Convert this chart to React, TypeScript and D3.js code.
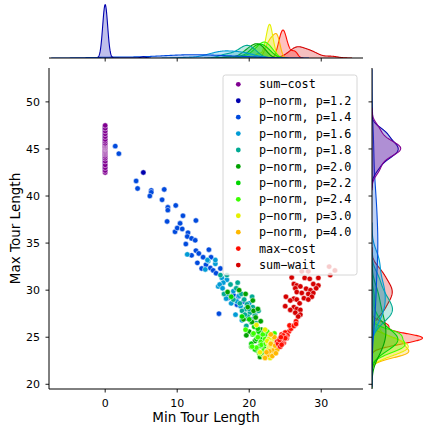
import React from 'react';
import * as d3 from 'd3';

// legend labels, in hue order
const seriesNames = [
  'sum−cost', 'p−norm, p=1.2', 'p−norm, p=1.4', 'p−norm, p=1.6', 'p−norm, p=1.8', 'p−norm, p=2.0',
  'p−norm, p=2.2', 'p−norm, p=2.4', 'p−norm, p=3.0', 'p−norm, p=4.0', 'max−cost', 'sum−wait',
];
// nipy_spectral sampled at 12 levels
const palette = [
  '#800091', '#0000ae', '#004add', '#009bd5', '#00aa93', '#00a100',
  '#00d500', '#3aff00', '#e6f000', '#ffb800', '#ff0c00', '#d50000',
];
const xTicks = [0, 10, 20, 30];
const yTicks = [20, 25, 30, 35, 40, 45, 50];

// [min tour length, max tour length]
const sumCost = [
  [0, 42.5], [0, 42.7], [0, 43.0], [0, 43.3], [0, 43.7], [0, 44.0], [0, 44.2], [0, 44.4], [0, 44.5], [0, 44.6],
  [0, 44.7], [0, 44.8], [0, 44.9], [0, 45.0], [0, 45.0], [0, 45.1], [0, 45.1], [0, 45.2], [0, 45.3], [0, 45.3],
  [0, 45.4], [0, 45.5], [0, 45.6], [0, 45.8], [0, 46.0], [0, 46.3], [0, 46.6], [0, 46.9], [0, 47.2], [0, 47.5],
];
const pNorm12 = [
  [0, 42.8], [0, 43.0], [0, 43.2], [0, 43.4], [0, 43.6], [0, 43.8], [0, 43.9], [0, 44.0], [0, 44.1], [0, 44.2],
  [0, 44.3], [0, 44.4], [0, 44.5], [0, 44.5], [0, 44.6], [0, 44.7], [0, 44.7], [0, 44.8], [0, 44.9], [0, 44.9],
  [0, 45.0], [0, 45.0], [0, 45.1], [0, 45.1], [0, 45.2], [0, 45.2], [0, 45.3], [0, 45.4], [0, 45.4], [0, 45.5],
  [0, 45.6], [0, 45.6], [0, 45.7], [0, 45.8], [0, 45.9], [0, 46.0], [0, 46.1], [0, 46.2], [0, 46.3], [0, 46.4],
  [0, 46.5], [0, 46.6], [0, 46.7], [0, 46.8], [0, 46.9], [0, 47.0], [0, 47.1], [0, 47.3], [0, 44.3], [5.3, 42.5],
];
const pNorm14 = [
  [0, 46.3], [0, 44.9], [0, 45.6], [1.4, 45.3], [1.9, 44.5], [4.3, 41.6], [4.5, 40.8], [6.4, 40.6], [6.4, 40.4],
  [6.2, 40.0], [8.2, 40.7], [7.9, 39.6], [8.7, 38.8], [8.7, 38.5], [9.8, 39.0], [10.8, 37.9], [8.6, 37.3],
  [10.4, 37.1], [12.6, 37.4], [9.7, 36.2], [10.0, 36.6], [10.7, 36.5], [11.5, 36.1], [11.4, 35.7], [12.0, 35.5],
  [12.5, 35.3], [11.2, 34.9], [12.6, 34.2], [13.0, 33.9], [12.0, 33.7], [14.4, 34.3], [13.6, 33.5], [14.7, 33.5],
  [12.8, 32.9], [13.4, 32.3], [14.0, 32.7], [14.6, 32.35], [15.0, 32.1], [15.4, 31.8], [16.0, 32.3], [15.8, 27.5],
  [16.7, 29.5], [17.1, 29.2], [17.8, 29.5], [18.5, 29.3], [19.2, 28.8], [19.9, 28.3], [19.7, 27.0], [20.4, 26.9],
  [20.8, 27.4], [18.3, 28.45],
];
const pNorm16 = [
  [11.4, 33.8], [14.3, 33.1], [15.3, 32.8], [13.9, 32.2], [15.7, 30.4], [16.2, 31.3], [16.9, 31.1], [16.4, 30.8],
  [15.9, 30.6], [16.3, 30.2], [15.3, 33.2], [14.2, 33.2], [17.0, 29.6], [17.8, 29.9], [18.3, 28.8], [18.8, 28.3],
  [19.3, 27.8], [19.8, 27.1], [17.5, 28.6], [18.1, 27.4], [16.8, 29.1], [20.3, 26.6], [18.6, 29.4], [19.0, 26.8],
  [20.0, 28.6], [21.0, 27.9],
];
const pNorm18 = [
  [16.0, 31.6], [16.9, 31.6], [17.4, 30.6], [16.5, 29.6], [18.2, 30.2], [18.9, 29.6], [19.3, 29.0], [19.7, 28.5],
  [19.5, 28.0], [20.1, 27.6], [19.8, 27.2], [20.5, 28.2], [20.2, 26.8], [18.7, 28.6], [19.0, 27.8], [20.8, 27.3],
  [17.8, 29.0], [20.4, 29.3], [21.0, 26.5], [19.6, 26.2], [20.0, 28.0], [19.4, 27.4], [21.3, 27.8], [18.4, 30.8],
];
const pNorm20 = [
  [17.0, 29.8], [18.6, 30.0], [19.5, 29.6], [20.5, 28.9], [19.8, 28.2], [20.6, 27.8], [21.2, 28.0], [19.2, 26.9],
  [20.4, 26.6], [21.0, 26.2], [21.7, 25.8], [20.0, 25.6], [21.4, 25.1], [22.3, 24.9], [20.8, 24.6], [21.9, 24.0],
  [22.4, 23.3], [21.1, 23.6], [19.6, 25.2], [20.9, 27.1], [21.6, 26.7], [22.0, 25.5], [20.3, 24.0], [21.5, 22.9],
];
const pNorm22 = [
  [17.5, 29.3], [19.0, 27.2], [20.0, 26.9], [20.7, 26.1], [21.3, 25.6], [21.8, 25.2], [20.5, 25.3], [21.0, 24.8],
  [22.0, 24.5], [22.6, 24.2], [21.5, 24.1], [20.3, 24.3], [22.9, 25.0], [21.8, 23.2], [22.2, 23.8], [23.1, 24.6],
  [21.2, 25.9], [20.8, 23.7], [22.4, 25.4], [21.6, 24.8],
];
const pNorm24 = [
  [19.5, 25.8], [20.6, 25.4], [21.2, 25.0], [21.9, 25.3], [22.5, 25.6], [21.6, 24.5], [22.2, 24.8], [22.8, 24.3],
  [21.0, 23.9], [22.0, 23.6], [23.3, 24.9], [20.4, 24.0], [23.5, 25.4], [22.5, 23.1], [21.7, 24.2], [22.3, 24.3],
  [21.4, 23.3], [22.9, 23.8],
];
const pNorm30 = [
  [21.0, 26.3], [22.2, 25.8], [22.9, 25.2], [23.2, 24.7], [22.6, 24.4], [22.8, 24.0], [23.0, 23.7], [22.4, 23.5],
  [23.4, 24.3], [22.9, 22.8], [22.1, 22.9], [21.5, 23.4], [23.6, 23.8], [22.7, 24.8], [23.1, 23.3], [22.5, 24.6],
  [22.8, 23.9], [23.0, 24.4], [22.6, 23.6], [22.9, 24.2],
];
const pNorm40 = [
  [23.5, 25.0], [23.8, 24.5], [24.0, 24.0], [23.3, 23.6], [22.6, 23.1], [22.2, 22.8], [23.0, 24.3], [23.9, 23.7],
  [24.2, 24.6], [22.8, 23.5], [23.6, 24.1], [23.2, 23.0], [23.7, 23.3], [22.4, 23.4], [23.0, 25.3], [24.1, 24.7],
];
const maxCost = [
  [24.4, 24.6], [24.7, 24.9], [24.5, 25.3], [25.0, 25.45], [25.5, 25.6], [25.8, 25.9], [25.6, 26.25], [26.2, 26.25],
  [26.5, 26.7], [24.3, 24.9], [24.7, 24.7], [23.9, 24.55], [25.0, 25.5], [26.2, 26.2], [26.5, 26.4], [24.1, 24.2],
  [24.8, 24.4], [25.2, 24.9], [24.0, 24.3], [24.3, 24.0], [24.6, 24.4], [24.9, 24.8], [24.2, 24.7], [24.5, 24.2],
  [24.8, 25.1], [25.3, 25.2], [24.6, 25.0], [24.9, 25.1], [25.1, 25.0], [24.7, 25.2], [25.0, 24.9], [24.4, 25.0],
];
const sumWait = [
  [25.9, 31.35], [27.7, 31.3], [28.4, 31.2], [29.6, 31.3], [26.2, 30.65], [26.6, 30.5], [27.1, 30.4], [26.4, 30.2],
  [28.9, 30.65], [29.6, 30.5], [27.9, 30.15], [28.5, 30.0], [29.3, 30.2], [26.6, 29.8], [27.3, 29.7], [28.9, 29.7],
  [28.2, 29.6], [28.7, 29.3], [25.1, 29.3], [26.2, 29.1], [25.7, 28.9], [26.6, 29.0], [27.6, 29.15], [28.2, 29.0],
  [27.0, 28.6], [25.0, 28.3], [26.2, 28.2], [26.6, 28.0], [27.1, 27.9], [25.7, 27.9], [26.4, 27.6], [27.1, 27.4],
  [26.8, 27.2], [27.3, 32.0], [28.2, 32.0], [31.1, 32.5], [31.9, 32.1], [31.25, 31.6],
];

const groups = [sumCost, pNorm12, pNorm14, pNorm16, pNorm18, pNorm20, pNorm22, pNorm24, pNorm30, pNorm40, maxCost, sumWait];
const drawOrder = [1, 2, 0, 3, 4, 5, 6, 7, 8, 9, 10, 11];

// gaussian kde, scott bandwidth, each group normalised on its own
function kde(vals: number[]) {
  const n = vals.length;
  const sd = d3.deviation(vals) || 0;
  if (sd < 1e-9) return null;
  const bw = sd * Math.pow(n, -0.2);
  const lo = d3.min(vals)! - 3 * bw;
  const hi = d3.max(vals)! + 3 * bw;
  const c = 1 / (n * bw * Math.sqrt(2 * Math.PI));
  return d3.range(200).map(i => {
    const g = lo + ((hi - lo) * i) / 199;
    return [g, c * d3.sum(vals, v => Math.exp(-0.5 * ((g - v) / bw) ** 2))] as [number, number];
  });
}

const main = { left: 49, right: 363, top: 68, bottom: 389 };
const topBase = 58, topTop = 2;
const rightBase = 372, rightEdge = 425;

export default function App() {
  const x = d3.scaleLinear().domain([-7.8, 35.8]).range([main.left, main.right]);
  const y = d3.scaleLinear().domain([19.5, 53.6]).range([main.bottom, main.top]);

  const xDens = groups.map(g => kde(g.map(p => p[0])));
  const yDens = groups.map(g => kde(g.map(p => p[1])));
  const xMax = d3.max(xDens, d => (d ? d3.max(d, p => p[1]) : 0))!;
  const yMax = d3.max(yDens, d => (d ? d3.max(d, p => p[1]) : 0))!;
  const dTop = d3.scaleLinear().domain([0, xMax * 1.05]).range([topBase, topTop]);
  const dRight = d3.scaleLinear().domain([0, yMax * 1.05]).range([rightBase, rightEdge]);

  const topArea = d3.area<[number, number]>().x(d => x(d[0])).y0(topBase).y1(d => dTop(d[1]));
  const topLine = d3.line<[number, number]>().x(d => x(d[0])).y(d => dTop(d[1]));
  const rightArea = d3.area<[number, number]>().y(d => y(d[0])).x0(rightBase).x1(d => dRight(d[1]));
  const rightLine = d3.line<[number, number]>().y(d => y(d[0])).x(d => dRight(d[1]));

  const rev = d3.range(groups.length).reverse();
  const font = '"DejaVu Sans", sans-serif';

  return (
    <svg width={424} height={430} style={{ position: 'absolute', left: 0, top: 0 }} fontFamily={font}>
      <rect width={424} height={430} fill="#fff" />
      <defs>
        <clipPath id="clipTop"><rect x={main.left} y={0} width={main.right - main.left} height={topBase} /></clipPath>
        <clipPath id="clipRight"><rect x={rightBase} y={main.top} width={60} height={main.bottom - main.top} /></clipPath>
      </defs>

      {/* top marginal */}
      <g clipPath="url(#clipTop)">
        {rev.map(i => xDens[i] && (
          <g key={i}>
            <path d={topArea(xDens[i]!)!} fill={palette[i]} fillOpacity={0.25} />
            <path d={topLine(xDens[i]!)!} fill="none" stroke={palette[i]} strokeWidth={1.1} />
          </g>
        ))}
      </g>
      <line x1={main.left} x2={main.right} y1={topBase} y2={topBase} stroke="#000" strokeWidth={1} />
      {xTicks.map(t => <line key={t} x1={x(t)} x2={x(t)} y1={topBase} y2={topBase + 3.5} stroke="#000" strokeWidth={0.9} />)}

      {/* right marginal */}
      <g clipPath="url(#clipRight)">
        {rev.map(i => yDens[i] && (
          <g key={i}>
            <path d={rightArea(yDens[i]!)!} fill={palette[i]} fillOpacity={0.25} />
            <path d={rightLine(yDens[i]!)!} fill="none" stroke={palette[i]} strokeWidth={1.1} />
          </g>
        ))}
      </g>
      <line x1={rightBase} x2={rightBase} y1={main.top} y2={main.bottom} stroke="#000" strokeWidth={1} />
      {yTicks.map(t => <line key={t} x1={rightBase - 3.5} x2={rightBase} y1={y(t)} y2={y(t)} stroke="#000" strokeWidth={0.9} />)}

      {/* scatter */}
      {drawOrder.map(i => (
        <g key={i}>
          {groups[i].map((p, j) => (
            <circle key={j} cx={x(p[0])} cy={y(p[1])} r={2.7} fill={palette[i]} stroke="#fff" strokeWidth={0.5} />
          ))}
        </g>
      ))}

      {/* axes */}
      <line x1={main.left} x2={main.left} y1={main.top} y2={main.bottom} stroke="#000" strokeWidth={1} />
      <line x1={main.left} x2={main.right} y1={main.bottom} y2={main.bottom} stroke="#000" strokeWidth={1} />
      {xTicks.map(t => (
        <g key={t}>
          <line x1={x(t)} x2={x(t)} y1={main.bottom} y2={main.bottom + 3.5} stroke="#000" strokeWidth={0.9} />
          <text x={x(t)} y={407} fontSize={11} textAnchor="middle" fill="#000">{t}</text>
        </g>
      ))}
      {yTicks.map(t => (
        <g key={t}>
          <line x1={main.left - 3.5} x2={main.left} y1={y(t)} y2={y(t)} stroke="#000" strokeWidth={0.9} />
          <text x={40} y={y(t)} dy="0.36em" fontSize={11} textAnchor="end" fill="#000">{t}</text>
        </g>
      ))}
      <text x={(main.left + main.right) / 2} y={422} fontSize={13.5} textAnchor="middle" fill="#000">Min Tour Length</text>
      <text transform={`translate(19.5,${(main.top + main.bottom) / 2}) rotate(-90)`} fontSize={13.5} textAnchor="middle" fill="#000">Max Tour Length</text>

      {/* legend */}
      <rect x={223} y={75} width={134} height={200} rx={2.5} fill="#fff" fillOpacity={0.8} stroke="#ccc" strokeWidth={0.8} />
      {seriesNames.map((s, i) => (
        <g key={s} transform={`translate(0,${84.3 + i * 16.43})`}>
          <circle cx={238.3} cy={0} r={2.4} fill={palette[i]} />
          <text x={259} y={0} dy="0.35em" fontSize={11.8} fontFamily='"DejaVu Sans Mono", monospace' fill="#000">{s}</text>
        </g>
      ))}
    </svg>
  );
}
